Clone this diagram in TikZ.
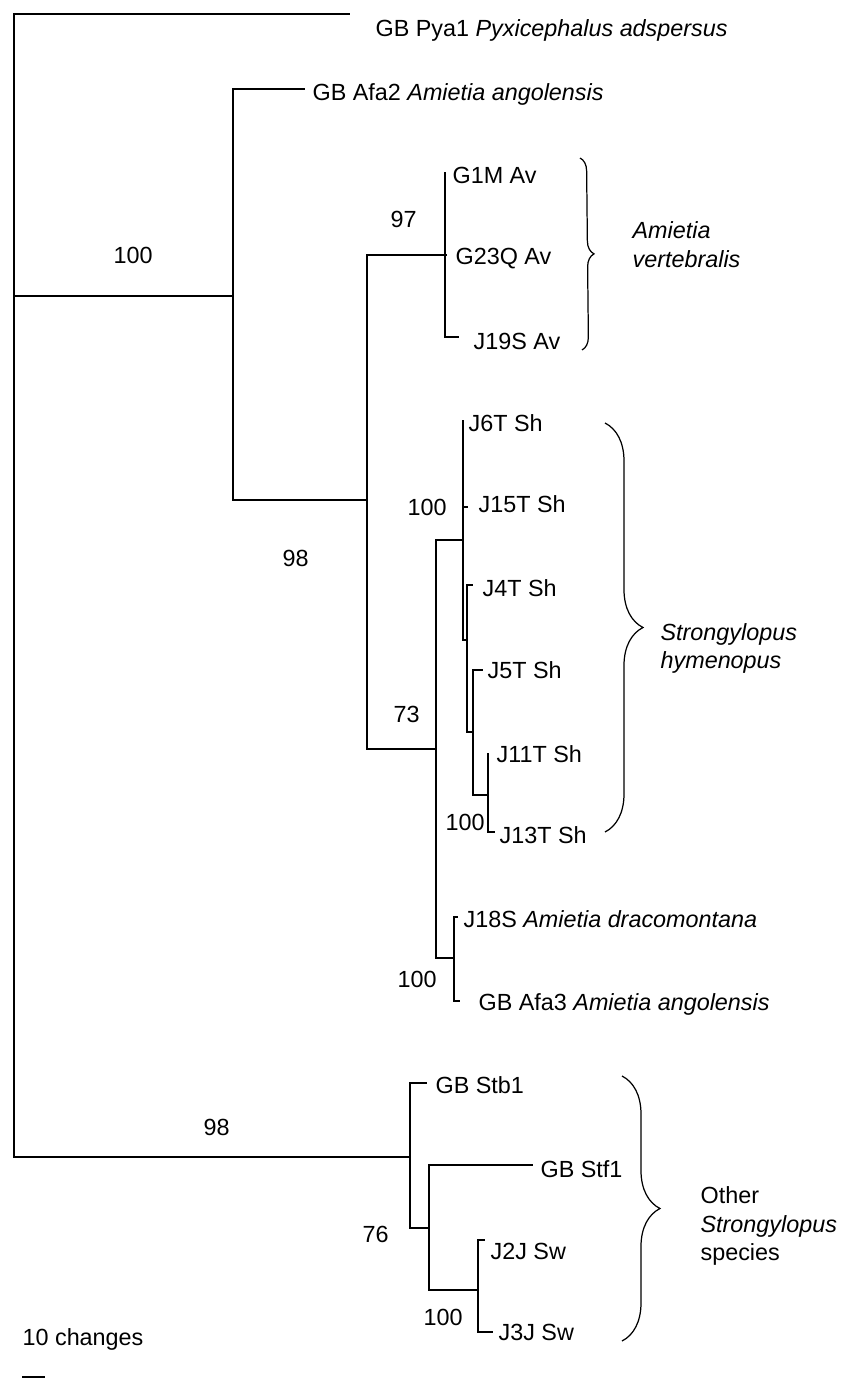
\documentclass[tikz,border=0pt]{standalone}
\usepackage{fontspec}
\setmainfont{Liberation Sans}
\usetikzlibrary{decorations.pathreplacing}

\begin{document}
\begin{tikzpicture}[x=0.02cm,y=-0.02cm,line width=0.7pt,
  lab/.style={anchor=base west,inner sep=0pt,font=\fontsize{13.3}{16}\selectfont},
  grp/.style={decorate,decoration={brace,amplitude=#1}}]
  \useasboundingbox (0,0) rectangle (845,1379);
  % inner nodes of the tree
  \coordinate (r) at (14,296); \coordinate (nA) at (233,296); \coordinate (nB) at (367,500);
  \coordinate (nC) at (445,255); \coordinate (nD) at (436,749); \coordinate (nE) at (463,540);
  \coordinate (nF) at (467,640); \coordinate (nG) at (473,732); \coordinate (nH) at (488,795);
  \coordinate (nI) at (454,958); \coordinate (nJ) at (410,1157); \coordinate (nK) at (429,1228);
  \coordinate (nL) at (478,1290);
  % tips
  \coordinate (pya) at (350,14); \coordinate (afa2) at (305,89);
  \coordinate (g1m) at (445,172); \coordinate (g23q) at (447,255); \coordinate (j19s) at (459,337);
  \coordinate (j6t) at (463,420); \coordinate (j15t) at (468,507); \coordinate (j4t) at (473,585);
  \coordinate (j5t) at (483,670); \coordinate (j11t) at (488,753); \coordinate (j13t) at (495,832);
  \coordinate (j18s) at (458,917); \coordinate (afa3) at (460,1001);
  \coordinate (stb1) at (427,1083); \coordinate (stf1) at (533,1165);
  \coordinate (j2j) at (485,1240); \coordinate (j3j) at (493,1332);
  % branches
  \draw (r) |- (pya); \draw (r) |- (nA); \draw (r) |- (nJ);
  \draw (nA) |- (afa2); \draw (nA) |- (nB);
  \draw (nB) |- (nC); \draw (nB) |- (nD);
  \draw (nC) |- (g1m); \draw (nC) |- (g23q); \draw (nC) |- (j19s);
  \draw (nD) |- (nE); \draw (nD) |- (nI);
  \draw (nE) |- (j6t); \draw (nE) |- (j15t); \draw (nE) |- (nF);
  \draw (nF) |- (j4t); \draw (nF) |- (nG);
  \draw (nG) |- (j5t); \draw (nG) |- (nH);
  \draw (nH) |- (j11t); \draw (nH) |- (j13t);
  \draw (nI) |- (j18s); \draw (nI) |- (afa3);
  \draw (nJ) |- (stb1); \draw (nJ) |- (nK);
  \draw (nK) |- (stf1); \draw (nK) |- (nL);
  \draw (nL) |- (j2j); \draw (nL) |- (j3j);
  % tip labels
  \node[lab] (tpya) at (375,36) {GB Pya1 \textit{Pyxicephalus adspersus}};
  \node[lab] (tafa2) at (312,100) {GB Afa2 \textit{Amietia angolensis}};
  \node[lab] (tg1m) at (452,183) {G1M Av}; \node[lab] (tg23q) at (455,264) {G23Q Av};
  \node[lab] (tj19s) at (473,349) {J19S Av};
  \node[lab] (tj6t) at (468,431) {J6T Sh}; \node[lab] (tj15t) at (478,512) {J15T Sh};
  \node[lab] (tj4t) at (482,596) {J4T Sh}; \node[lab] (tj5t) at (487,678) {J5T Sh};
  \node[lab] (tj11t) at (496,762) {J11T Sh}; \node[lab] (tj13t) at (499,843) {J13T Sh};
  \node[lab] (tj18s) at (463,927) {J18S \textit{Amietia dracomontana}};
  \node[lab] (tafa3) at (478,1010) {GB Afa3 \textit{Amietia angolensis}};
  \node[lab] (tstb1) at (435,1093) {GB Stb1}; \node[lab] (tstf1) at (540,1177) {GB Stf1};
  \node[lab] (tj2j) at (490,1259) {J2J Sw}; \node[lab] (tj3j) at (498,1340) {J3J Sw};
  % support values
  \node[lab] (bA) at (113,263) {100}; \node[lab] (bC) at (390,227) {97};
  \node[lab] (bB) at (282,566) {98}; \node[lab] (bE) at (407,515) {100};
  \node[lab] (bD) at (393,722) {73}; \node[lab] (bH) at (445,830) {100};
  \node[lab] (bI) at (397,987) {100}; \node[lab] (bJ) at (203,1135) {98};
  \node[lab] (bK) at (362,1242) {76}; \node[lab] (bL) at (423,1325) {100};
  % groups
  \draw[grp=0.26cm] (580,158) -- (582,350);
  \node[lab] (gav) at (632,238) {\textit{Amietia}}; \node[lab] (gav2) at (632,267) {\textit{vertebralis}};
  \draw[grp=0.76cm] (605,423) -- (605,832);
  \node[lab] (gsh) at (660,640) {\textit{Strongylopus}}; \node[lab] (gsh2) at (660,668) {\textit{hymenopus}};
  \draw[grp=0.76cm] (622,1076) -- (622,1341);
  \node[lab] (gst) at (700,1203) {Other}; \node[lab] (gst2) at (700,1232) {\textit{Strongylopus}};
  \node[lab] (gst3) at (700,1260) {species};
  % scale
  \node[lab] (sc) at (22,1345) {10 changes};
  \coordinate (s0) at (22,1377); \coordinate (s1) at (45,1377); \draw (s0) -- (s1);
\end{tikzpicture}
\end{document}
